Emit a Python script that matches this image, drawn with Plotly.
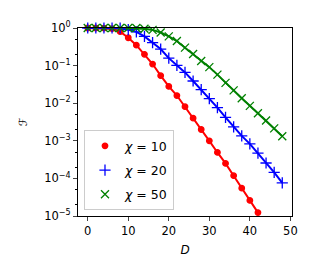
import plotly.graph_objects as go

D = list(range(0, 49, 2))
D_red = list(range(0, 43, 2))

F_chi10 = [1.0, 1.0, 0.997, 0.96, 0.80, 0.55, 0.35, 0.20, 0.11, 0.054, 0.028, 0.016,
           0.0081, 0.004, 0.002, 0.001, 0.00049, 0.00025, 0.000118, 0.000055,
           0.000026, 0.0000123]
F_chi20 = [1.0, 1.0, 1.0, 1.0, 0.99, 0.90, 0.79, 0.60, 0.41, 0.275, 0.158, 0.102,
           0.066, 0.039, 0.023, 0.0132, 0.0076, 0.0042, 0.00234, 0.00135,
           0.00083, 0.00047, 0.000257, 0.000145, 0.000076]
F_chi50 = [1.0, 1.0, 1.0, 1.0, 1.0, 1.0, 0.995, 0.96, 0.89, 0.76, 0.60, 0.45,
           0.30, 0.204, 0.132, 0.091, 0.0575, 0.0347, 0.0219, 0.0135, 0.0085,
           0.0054, 0.00347, 0.00214, 0.00132]

series = [
    ("<i>χ</i> = 10", D_red, F_chi10, "red", "circle", 5.5),
    ("<i>χ</i> = 20", D, F_chi20, "blue", "cross-thin", 8),
    ("<i>χ</i> = 50", D, F_chi50, "green", "x-thin", 8),
]

fig = go.Figure()
for name, x, y, col, sym, sz in series:
    fig.add_trace(go.Scatter(x=x, y=y, mode="lines", line=dict(color=col, width=2),
                             showlegend=False, cliponaxis=False))
for i, (name, x, y, col, sym, sz) in enumerate(series):
    fig.add_trace(go.Scatter(x=x, y=y, mode="markers", name=name, legendgroup=f"g{i}",
                             marker=dict(color=col, symbol=sym, size=sz,
                                         line=dict(color=col, width=1.3)),
                             cliponaxis=False))

ytv = [1, 1e-1, 1e-2, 1e-3, 1e-4, 1e-5]
ytt = ["10<sup>0</sup>", "10<sup>−1</sup>", "10<sup>−2</sup>", "10<sup>−3</sup>",
       "10<sup>−4</sup>", "10<sup>−5</sup>"]

fig.update_layout(
    width=306, height=267,
    margin=dict(l=70, r=22, t=15, b=59),
    paper_bgcolor="white", plot_bgcolor="white",
    font=dict(family="DejaVu Sans", size=11.5, color="black"),
    xaxis=dict(range=[-2.4, 50.4], tickvals=[0, 10, 20, 30, 40, 50],
               ticks="outside", ticklen=4, tickwidth=1, showgrid=False,
               zeroline=False, showline=True, linecolor="black", linewidth=1,
               mirror=True,
               title=dict(text="<i>D</i>", standoff=8, font=dict(size=12))),
    yaxis=dict(type="log", range=[-5, 0], tickvals=ytv, ticktext=ytt,
               ticks="outside", ticklen=4, tickwidth=1, showgrid=False,
               zeroline=False, showline=True, linecolor="black", linewidth=1,
               mirror=True,
               minor=dict(ticks="outside", ticklen=2, tickcolor="black", showgrid=False),
               title=dict(text="ℱ", standoff=14, font=dict(size=11))),
    legend=dict(x=0.028, y=0.031, xanchor="left", yanchor="bottom",
                bgcolor="rgba(255,255,255,0.8)", bordercolor="#cccccc", borderwidth=1,
                tracegroupgap=5, font=dict(size=12.5)),
)

fig.write_html("out.html")
